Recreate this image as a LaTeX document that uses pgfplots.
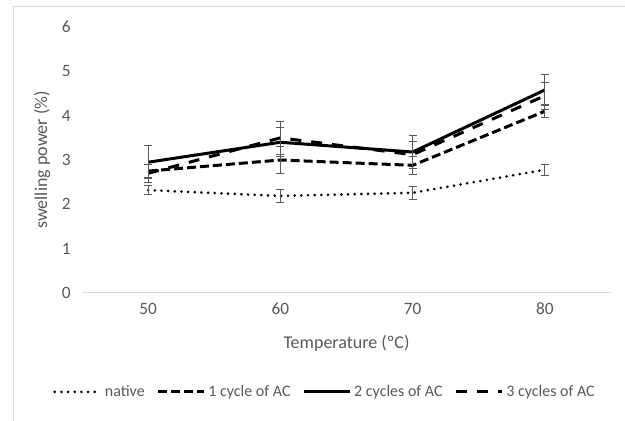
\documentclass[border=0pt]{standalone}
\usepackage{pgfplots}
\pgfplotsset{compat=1.18}
\usepackage{fontspec}
\setmainfont{Carlito}
\definecolor{txt}{HTML}{595959}
\definecolor{axl}{HTML}{D9D9D9}
\definecolor{errc}{HTML}{595959}
\begin{document}
\begin{tikzpicture}
\useasboundingbox (0,0) rectangle (468.75pt,315.75pt);
\draw[axl, line width=0.75pt] (9.75pt,0) -- (9.75pt,310.5pt) -- (468.75pt,310.5pt);
\begin{axis}[
  at={(61.5pt,96pt)}, anchor=origin,
  scale only axis,
  width=396.75pt, height=199.5pt,
  xmin=45, xmax=85, ymin=0, ymax=6,
  xtick={50,60,70,80}, ytick={0,1,2,3,4,5,6},
  axis x line=bottom, axis y line=left,
  x axis line style={draw=axl, line width=0.75pt, -},
  y axis line style={draw=none},
  major tick length=0pt,
  /pgf/number format/assume math mode=true,
  tick label style={font=\fontsize{13}{15}\selectfont, text=txt},
  yticklabel style={xshift=-5pt},
  xticklabel style={yshift=-4pt},
  xlabel={Temperature (ºC)},
  ylabel={swelling power (\%)},
  label style={font=\fontsize{13.5}{16}\selectfont, text=txt},
  xlabel style={at={(0.5,-0.188)}, anchor=center},
  ylabel style={at={(-0.0756,0.5)}, anchor=center},
  legend columns=4,
  legend style={draw=none, fill=none, at={(0.46,-0.372)}, anchor=center,
    font=\fontsize{12}{14}\selectfont, text=txt, inner xsep=0pt,
    /tikz/every even column/.append style={column sep=7pt}},
  legend image code/.code={\draw[#1] (0pt,0pt) -- (34.5pt,0pt);},
  error bars/y dir=both, error bars/y explicit,
  error bars/error bar style={errc, line width=0.6pt, solid},
  error bars/error mark options={rotate=90, mark size=3pt, errc, line width=0.6pt, solid},
]
\addplot[black, line width=2.2pt, line cap=round, dash pattern=on 0pt off 5pt] coordinates {
(50,2.32) +- (0,0.1)
(60,2.19) +- (0,0.14)
(70,2.26) +- (0,0.14)
(80,2.78) +- (0,0.13)
};
\addlegendentry{native}
\addplot[black, line width=2.25pt, dash pattern=on 6.75pt off 3pt] coordinates {
(50,2.75) +- (0,0.15)
(60,3.0) +- (0,0.3)
(70,2.88) +- (0,0.2)
(80,4.1) +- (0,0.15)
};
\addlegendentry{1 cycle of AC}
\addplot[black, line width=2.25pt] coordinates {
(50,2.95) +- (0,0.37)
(60,3.4) +- (0,0.33)
(70,3.18) +- (0,0.37)
(80,4.58) +- (0,0.35)
};
\addlegendentry{2 cycles of AC}
\addplot[black, line width=2.25pt, dash pattern=on 8.25pt off 7.5pt] coordinates {
(50,2.7) +- (0,0.2)
(60,3.5) +- (0,0.38)
(70,3.12) +- (0,0.3)
(80,4.45) +- (0,0.3)
};
\addlegendentry{3 cycles of AC}
\end{axis}
\end{tikzpicture}
\end{document}
